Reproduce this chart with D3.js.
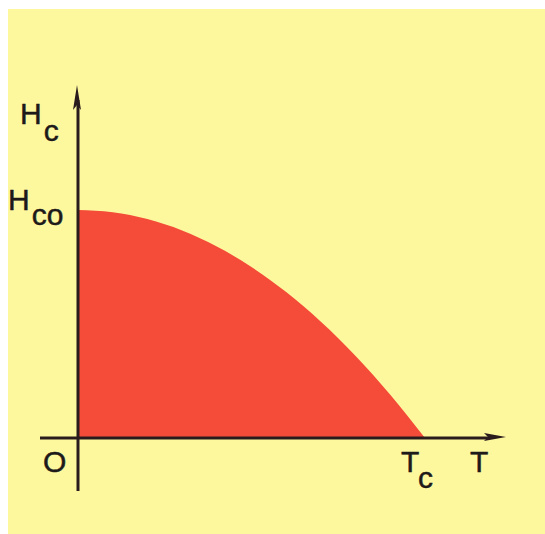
<!DOCTYPE html>
<html>
<head>
<meta charset="utf-8">
<script src="https://cdn.jsdelivr.net/npm/d3@7"></script>
<style>
  html, body { margin: 0; padding: 0; background: #fff; }
  svg { display: block; }
  text { font-family: "Liberation Sans", Arial, sans-serif; fill: #1e1a1a; stroke: #1e1a1a; stroke-width: 0.5px; }
</style>
</head>
<body>
<div id="chart"></div>
<script>
  // critical field curve (T / Tc, Hc / Hc0)
  var temps = [0, 0.1, 0.2, 0.3, 0.4, 0.5, 0.6, 0.7, 0.8, 0.9, 1]
  var fields = [1, 0.99, 0.96, 0.91, 0.84, 0.75, 0.64, 0.51, 0.36, 0.19, 0]

  var width = 545, height = 534
  var axisColor = '#2a1c1c'

  var svg = d3.select('#chart').append('svg')
    .attr('width', width)
    .attr('height', height)

  // yellow page with a little white edge at top/left
  svg.append('rect')
    .attr('x', 8).attr('y', 9)
    .attr('width', width - 8).attr('height', height - 9)
    .attr('fill', '#fdf89e')

  var xScale = d3.scaleLinear().domain([0, 1]).range([78, 425])
  var yScale = d3.scaleLinear().domain([0, 1]).range([438, 210])

  var data = temps.map(function(t, i) { return { t: t, h: fields[i] } })

  var area = d3.area()
    .x(function(d) { return xScale(d.t) })
    .y0(yScale(0))
    .y1(function(d) { return yScale(d.h) })
    .curve(d3.curveMonotoneX)

  svg.append('path')
    .datum(data)
    .attr('d', area)
    .attr('fill', '#f44c39')

  // AXES
  var x0 = xScale(0), y0 = yScale(0)

  svg.append('line')
    .attr('x1', 40).attr('x2', 490)
    .attr('y1', y0).attr('y2', y0)
    .attr('stroke', axisColor).attr('stroke-width', 3)

  svg.append('line')
    .attr('x1', x0).attr('x2', x0)
    .attr('y1', 491).attr('y2', 100)
    .attr('stroke', axisColor).attr('stroke-width', 3)

  // arrow heads
  svg.append('path')
    .attr('d', 'M' + 506 + ',' + (y0 - 1) + 'L' + 484 + ',' + (y0 - 5) + 'L' + 488 + ',' + (y0 - 1) + 'L' + 484 + ',' + (y0 + 3) + 'Z')
    .attr('fill', axisColor)
  svg.append('path')
    .attr('d', 'M' + (x0 - 1) + ',' + 85 + 'L' + (x0 - 5) + ',' + 110 + 'L' + (x0 - 1) + ',' + 105 + 'L' + (x0 + 3) + ',' + 110 + 'Z')
    .attr('fill', axisColor)

  // LABELS
  var labels = [
    { main: 'H', sub: 'c', x: 20, y: 124, dy: 17 },
    { main: 'H', sub: 'co', x: 8, y: 210, dy: 15 },
    { main: 'O', sub: '', x: 43, y: 472, dy: 0 },
    { main: 'T', sub: 'c', x: 401, y: 472, dy: 16 },
    { main: 'T', sub: '', x: 470, y: 472, dy: 0 }
  ]

  var lab = svg.selectAll('.lab').data(labels).enter().append('text')
    .attr('class', 'lab')
    .attr('x', function(d) { return d.x })
    .attr('y', function(d) { return d.y })
    .style('font-size', '30px')

  lab.append('tspan').text(function(d) { return d.main })
  lab.append('tspan')
    .attr('dx', 2)
    .attr('dy', function(d) { return d.dy })
    .style('font-size', '30px')
    .text(function(d) { return d.sub })
</script>
</body>
</html>
